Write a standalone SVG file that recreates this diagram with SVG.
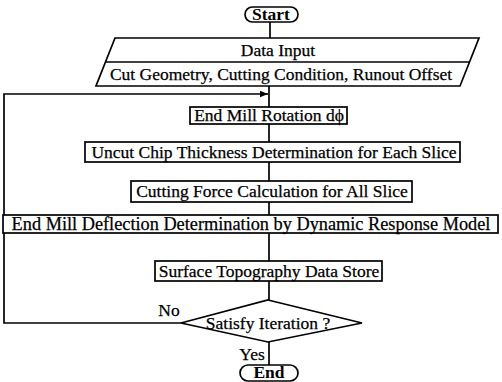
<svg xmlns="http://www.w3.org/2000/svg" width="502" height="382" viewBox="0 0 502 382">
<defs>
<style>
.s{fill:#fff;stroke:#000;stroke-width:1.7}
.l{fill:none;stroke:#000;stroke-width:1.7}
.t{font-family:"Liberation Serif","Times New Roman",serif;font-size:17.5px;fill:#000;stroke:#000;stroke-width:0.25;text-anchor:middle}
.b{font-weight:bold;stroke-width:0}
</style>
<marker id="ah" viewBox="0 0 10 10" refX="10" refY="5" markerWidth="8" markerHeight="8" markerUnits="userSpaceOnUse" orient="auto"><path d="M0,1 L10,5 L0,9 Z" fill="#000"/></marker>
</defs>
<rect width="502" height="382" fill="#fff"/>
<g id="connectors">
<path class="l" d="M270,22 V38"/>
<path class="l" d="M269,86 V107"/>
<path class="l" d="M269,124 V142"/>
<path class="l" d="M269,162 V181"/>
<path class="l" d="M269,202 V215"/>
<path class="l" d="M269,233 V261"/>
<path class="l" d="M269,281 V300"/>
<path class="l" d="M269,342 V365"/>
<path class="l" d="M181,323 H4 V94 H268" marker-end="url(#ah)"/>
</g>
<g id="start">
<rect class="s" x="245" y="7" width="53" height="15" rx="7.5"/>
<text class="t b" x="271" y="20">Start</text>
</g>
<g id="data-input">
<path class="s" d="M115,38 H479 L460,86 H96 Z"/>
<path class="l" d="M105.5,62 H469.5"/>
<text class="t" x="278" y="56">Data Input</text>
<text class="t" x="281" y="80">Cut Geometry, Cutting Condition, Runout Offset</text>
</g>
<g id="rotation">
<rect class="s" x="190" y="107" width="157" height="17"/>
<text class="t" x="269" y="121">End Mill Rotation dϕ</text>
</g>
<g id="uncut">
<rect class="s" x="85" y="142" width="375" height="20"/>
<text class="t" x="274" y="158">Uncut Chip Thickness Determination for Each Slice</text>
</g>
<g id="force">
<rect class="s" x="131" y="181" width="281" height="21"/>
<text class="t" x="272" y="197">Cutting Force Calculation for All Slice</text>
</g>
<g id="deflection">
<rect class="s" x="3" y="215" width="495" height="18"/>
<text class="t" x="251" y="230" style="font-size:18.3px">End Mill Deflection Determination by Dynamic Response Model</text>
</g>
<g id="surface">
<rect class="s" x="155" y="261" width="227" height="20"/>
<text class="t" x="269" y="277">Surface Topography Data Store</text>
</g>
<g id="decision">
<path class="s" d="M268,300 L362,323 L268,342 L181,323 Z"/>
<text class="t" x="268" y="329">Satisfy Iteration ?</text>
</g>
<g id="end">
<rect class="s" x="240" y="365" width="58" height="16" rx="8"/>
<text class="t b" x="269" y="378">End</text>
</g>
<text class="t" x="169" y="316">No</text>
<text class="t" x="252" y="360">Yes</text>
</svg>
